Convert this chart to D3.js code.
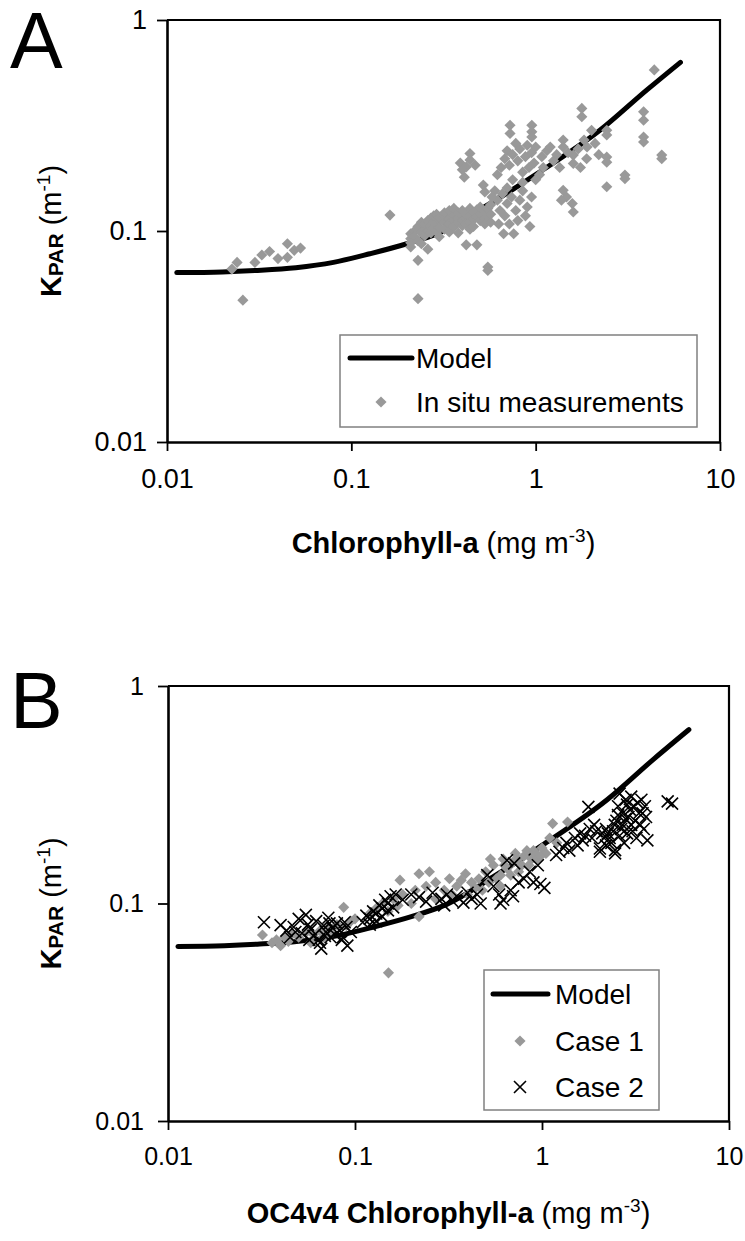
<!DOCTYPE html>
<html>
<head>
<meta charset="utf-8">
<script src="https://cdn.jsdelivr.net/npm/d3@7"></script>
<style>
  body { margin: 0; background: #fff; }
  svg text { font-family: "Liberation Sans", Arial, sans-serif; fill: #000; }
</style>
</head>
<body>
<svg id="chart" width="745" height="1241"></svg>
<script>
// ---- data ----
const xTicks = [0.01, 0.1, 1, 10];
const yTicks = [0.01, 0.1, 1];

// model curve (chlorophyll, Kpar)
const modelChl = [0.0113, 0.02, 0.03, 0.05, 0.08, 0.126, 0.2, 0.3, 0.566, 1.0, 2.23, 4.0, 6.1];
const modelK   = [0.0635, 0.064, 0.065, 0.067, 0.071, 0.078, 0.087, 0.098, 0.135, 0.185, 0.30, 0.465, 0.63];

// panel A: in situ measurements [chl, Kpar]
const inSitu = [
  [0.0225,0.066],[0.024,0.071],[0.0258,0.047],[0.030,0.071],[0.0327,0.077],[0.036,0.080],
  [0.040,0.074],[0.045,0.075],[0.045,0.087],[0.049,0.081],[0.053,0.083],[0.162,0.119],
  [0.21,0.092],[0.21,0.097],[0.21,0.084],[0.21,0.088],[0.22,0.100],[0.22,0.094],
  [0.23,0.0726],[0.23,0.0478],[0.23,0.105],[0.23,0.090],[0.24,0.098],[0.24,0.110],[0.24,0.087],
  [0.25,0.102],[0.25,0.108],[0.25,0.095],[0.26,0.082],[0.26,0.112],[0.26,0.100],
  [0.27,0.105],[0.27,0.115],[0.27,0.098],[0.28,0.110],[0.28,0.103],[0.28,0.118],
  [0.29,0.108],[0.29,0.099],[0.29,0.120],[0.30,0.112],[0.30,0.104],[0.30,0.116],[0.30,0.094],
  [0.32,0.110],[0.32,0.118],[0.32,0.102],[0.32,0.122],[0.34,0.114],[0.34,0.108],[0.34,0.125],[0.34,0.099],
  [0.36,0.112],[0.36,0.119],[0.36,0.105],[0.36,0.128],[0.38,0.115],[0.38,0.110],[0.38,0.122],[0.38,0.098],
  [0.40,0.118],[0.40,0.106],[0.40,0.125],[0.40,0.112],[0.42,0.086],[0.42,0.115],[0.42,0.120],[0.42,0.108],
  [0.44,0.110],[0.44,0.118],[0.44,0.102],[0.44,0.128],[0.46,0.113],[0.46,0.122],[0.46,0.105],
  [0.48,0.086],[0.48,0.117],[0.48,0.126],[0.50,0.112],[0.50,0.120],[0.50,0.130],
  [0.53,0.115],[0.53,0.124],[0.53,0.108],[0.55,0.0675],[0.55,0.065],[0.55,0.118],[0.55,0.128],
  [0.57,0.120],[0.57,0.110],[0.57,0.133],
  [0.44,0.233],[0.44,0.217],[0.42,0.201],[0.47,0.205],[0.41,0.180],[0.52,0.165],[0.53,0.153],
  [0.39,0.210],[0.40,0.195],
  [0.62,0.140],[0.64,0.125],[0.66,0.150],[0.67,0.097],[0.68,0.118],[0.70,0.135],[0.72,0.108],
  [0.74,0.145],[0.76,0.097],[0.78,0.125],[0.80,0.112],[0.82,0.140],[0.85,0.155],[0.88,0.118],
  [0.90,0.130],[0.93,0.105],[0.95,0.145],[0.60,0.155],[0.63,0.108],[0.70,0.160],[0.58,0.145],
  [0.726,0.317],[0.726,0.290],[0.953,0.317],[0.953,0.295],[0.953,0.279],[0.65,0.200],[0.68,0.220],
  [0.70,0.240],[0.72,0.205],[0.75,0.230],[0.78,0.260],[0.80,0.215],[0.82,0.245],[0.85,0.190],
  [0.88,0.225],[0.90,0.255],[0.92,0.200],[0.95,0.235],[0.98,0.210],[1.00,0.250],[1.05,0.185],
  [1.08,0.225],[1.10,0.200],[1.15,0.240],[1.20,0.250],[1.25,0.215],[0.85,0.170],[0.75,0.175],
  [1.00,0.175],[0.62,0.185],
  [1.41,0.270],[1.41,0.250],[1.41,0.156],[1.47,0.145],[1.58,0.135],[1.60,0.123],[1.38,0.140],
  [1.60,0.229],[1.60,0.209],[1.83,0.270],[1.89,0.220],[2.01,0.300],[1.78,0.381],[1.78,0.348],
  [1.50,0.235],[1.70,0.245],[1.75,0.200],[1.90,0.250],[2.10,0.260],[2.20,0.230],[1.30,0.230],[1.35,0.200],
  [2.43,0.162],[2.43,0.224],[2.43,0.212],[2.43,0.300],[2.43,0.285],[3.05,0.184],[3.05,0.177],
  [3.85,0.367],[3.85,0.335],[3.85,0.279],[3.85,0.264],[4.83,0.229],[4.83,0.220],[4.40,0.580]
];

// panel B: Case 1 (gray diamonds) and Case 2 (crosses) [chl, Kpar]
const case1 = [
  [0.032,0.0716],[0.036,0.066],[0.038,0.068],[0.040,0.064],[0.042,0.070],[0.044,0.067],
  [0.046,0.072],[0.050,0.070],[0.055,0.074],[0.060,0.072],[0.065,0.075],[0.070,0.078],
  [0.075,0.073],[0.080,0.080],[0.087,0.096],[0.090,0.079],[0.095,0.083],[0.100,0.085],
  [0.151,0.048],[0.12,0.090],[0.13,0.095],[0.14,0.100],[0.15,0.092],[0.16,0.105],[0.174,0.128],
  [0.18,0.110],[0.20,0.100],[0.22,0.137],[0.22,0.087],[0.24,0.120],[0.25,0.140],[0.27,0.125],
  [0.30,0.115],[0.32,0.130],[0.35,0.120],[0.39,0.137],[0.40,0.110],[0.42,0.125],[0.46,0.130],
  [0.48,0.115],[0.50,0.140],[0.55,0.150],[0.60,0.135],[0.62,0.160],[0.65,0.145],[0.70,0.155],
  [0.72,0.170],[0.75,0.140],[0.80,0.165],[0.85,0.150],[0.90,0.175],[0.95,0.160],[1.00,0.180],
  [1.05,0.170],[1.14,0.233],[1.37,0.237],[1.10,0.200],[1.20,0.190],[0.60,0.120],[0.52,0.125],
  [0.53,0.160],[0.57,0.130],[0.63,0.150],[0.68,0.135],[0.74,0.160],[0.78,0.150],[0.83,0.175],
  [0.88,0.160],[0.93,0.170],[0.98,0.165],[0.27,0.105],[0.33,0.110],[0.37,0.128],[0.44,0.118],
  [0.17,0.098],[0.21,0.115],[0.058,0.066],[0.068,0.070]
];
const case2 = [
  [0.0326,0.082],[0.040,0.0795],[0.043,0.075],[0.045,0.070],[0.047,0.078],[0.050,0.085],
  [0.052,0.073],[0.0546,0.0887],[0.056,0.080],[0.058,0.076],[0.060,0.071],[0.062,0.083],
  [0.064,0.068],[0.066,0.062],[0.068,0.079],[0.070,0.074],[0.072,0.086],[0.074,0.070],
  [0.076,0.077],[0.078,0.072],[0.080,0.081],[0.083,0.075],[0.086,0.070],[0.090,0.078],
  [0.091,0.064],[0.095,0.074],[0.065,0.066],[0.069,0.071],
  [0.110,0.082],[0.115,0.088],[0.120,0.085],[0.125,0.092],[0.130,0.090],[0.135,0.098],
  [0.140,0.095],[0.145,0.104],[0.150,0.100],[0.155,0.108],[0.160,0.096],[0.165,0.110],
  [0.120,0.080],[0.140,0.087],
  [0.18,0.104],[0.20,0.110],[0.22,0.107],[0.24,0.102],[0.26,0.112],[0.29,0.105],[0.31,0.110],
  [0.33,0.103],[0.35,0.108],[0.38,0.101],[0.40,0.112],[0.42,0.105],[0.45,0.110],[0.47,0.100],[0.30,0.098],
  [0.51,0.135],[0.55,0.120],[0.59,0.110],[0.62,0.104],[0.65,0.158],[0.68,0.115],[0.71,0.153],
  [0.75,0.125],[0.80,0.130],[0.86,0.140],[0.90,0.125],[0.98,0.123],[1.03,0.118],[0.60,0.100],
  [0.70,0.108],[0.95,0.150],
  [1.19,0.167],[1.24,0.173],[1.30,0.180],[1.35,0.190],[1.40,0.175],[1.50,0.200],[1.55,0.185],
  [1.60,0.210],[1.65,0.195],[1.77,0.278],[1.80,0.220],[1.85,0.200],[1.90,0.230],[2.04,0.179],[2.04,0.173],
  [2.10,0.210],[2.20,0.220],[2.30,0.200],[2.46,0.176],[2.46,0.170],[2.50,0.240],[2.60,0.320],
  [2.65,0.220],[2.70,0.260],[2.80,0.300],[2.85,0.210],[2.90,0.250],[3.00,0.230],[3.10,0.280],
  [3.20,0.200],[3.30,0.260],[3.40,0.300],[3.50,0.220],[3.60,0.250],[3.66,0.195],[2.75,0.190],
  [3.00,0.310],[2.55,0.280],[2.20,0.185],[2.35,0.190],[4.96,0.288],[4.70,0.295],
  [2.15,0.200],[2.25,0.210],[2.40,0.215],[2.45,0.230],[2.60,0.205],[2.70,0.230],[2.80,0.245],
  [2.95,0.270],[3.05,0.215],[3.15,0.240],[3.25,0.290],[3.35,0.230],[3.45,0.260],[2.55,0.255],
  [2.85,0.285],[3.55,0.280],[1.95,0.215],[1.70,0.205],[0.085,0.068],[0.088,0.082],[0.048,0.074],
  [0.057,0.068],[0.073,0.081],[0.130,0.083],[0.150,0.093]
];

// ---- layout ----
const font = '"Liberation Sans", Arial, sans-serif';
const grey = '#999999';
const svg = d3.select('#chart');

const panels = [
  {
    letter: 'A', left: 167, right: 720, top: 20, bottom: 442,
    tickFont: 27, yLabelGap: 20, xLabelDy: 46, xTitleDy: 111,
    xTitleBold: 'Chlorophyll-a',
    series: [{ name: 'In situ measurements', data: inSitu, type: 'diamond' }],
    legend: { x0: 340, x1: 697, y0: 335, y1: 427, rows: [358, 402], lineX0: 350, lineX1: 412, markX: 381, textX: 416 }
  },
  {
    letter: 'B', left: 168, right: 729, top: 686, bottom: 1121,
    tickFont: 25, yLabelGap: 24, xLabelDy: 44, xTitleDy: 102,
    xTitleBold: 'OC4v4 Chlorophyll-a',
    series: [
      { name: 'Case 1', data: case1, type: 'diamond' },
      { name: 'Case 2', data: case2, type: 'cross' }
    ],
    legend: { x0: 484, x1: 659, y0: 970, y1: 1110, rows: [994, 1041, 1087], lineX0: 493, lineX1: 548, markX: 520, textX: 555 }
  }
];

const diamondPath = d3.symbol(d3.symbolSquare, 62)();
const crossPath = 'M-6,-6L6,6M-6,6L6,-6';

function drawMarker(g, type, x, y) {
  if (type === 'diamond') {
    g.append('path').attr('d', diamondPath)
      .attr('transform', `translate(${x},${y}) rotate(45)`)
      .attr('fill', grey);
  } else {
    g.append('path').attr('d', crossPath)
      .attr('transform', `translate(${x},${y})`)
      .attr('fill', 'none').attr('stroke', '#000').attr('stroke-width', 1.6);
  }
}

panels.forEach(p => {
  const x = d3.scaleLog().domain([0.01, 10]).range([p.left, p.right]);
  const y = d3.scaleLog().domain([0.01, 1]).range([p.bottom, p.top]);
  const g = svg.append('g');

  // frame (top and right edges)
  g.append('path')
    .attr('d', `M${p.left},${p.top}H${p.right}V${p.bottom}`)
    .attr('fill', 'none').attr('stroke', '#000').attr('stroke-width', 2.2);

  // model curve, drawn under the markers
  const line = d3.line().x(d => x(d[0])).y(d => y(d[1])).curve(d3.curveMonotoneX);
  g.append('path')
    .datum(modelChl.map((c, i) => [c, modelK[i]]))
    .attr('d', line)
    .attr('fill', 'none').attr('stroke', '#000').attr('stroke-width', 5)
    .attr('stroke-linecap', 'round').attr('stroke-linejoin', 'round');

  // scatter
  const marks = g.append('g');
  p.series.forEach(s => {
    s.data.forEach(d => drawMarker(marks, s.type, x(d[0]), y(d[1])));
  });

  // axes
  const yAxis = g.append('g').attr('transform', `translate(${p.left},0)`)
    .call(d3.axisLeft(y).tickValues(yTicks).tickFormat(d => String(d)).tickSize(10).tickSizeOuter(0).tickPadding(p.yLabelGap - 10));
  const xAxis = g.append('g').attr('transform', `translate(0,${p.bottom})`)
    .call(d3.axisBottom(x).tickValues(xTicks).tickFormat(d => String(d)).tickSize(9).tickSizeOuter(0));
  [yAxis, xAxis].forEach(a => {
    a.select('.domain').attr('stroke-width', 2.6);
    a.selectAll('.tick line').attr('stroke-width', 1.8);
    a.selectAll('.tick text').style('font-family', font).style('font-size', p.tickFont + 'px');
  });
  xAxis.selectAll('.tick text').attr('y', null).attr('dy', null)
    .attr('transform', `translate(0,${p.xLabelDy})`);

  // legend
  const L = p.legend;
  const lg = g.append('g');
  lg.append('rect').attr('x', L.x0).attr('y', L.y0).attr('width', L.x1 - L.x0).attr('height', L.y1 - L.y0)
    .attr('fill', '#fff').attr('stroke', '#808080').attr('stroke-width', 1.5);
  const entries = [{ name: 'Model', type: 'line' }].concat(p.series);
  entries.forEach((e, i) => {
    const ry = L.rows[i];
    if (e.type === 'line') {
      lg.append('line').attr('x1', L.lineX0).attr('x2', L.lineX1).attr('y1', ry).attr('y2', ry)
        .attr('stroke', '#000').attr('stroke-width', 5).attr('stroke-linecap', 'round');
    } else {
      drawMarker(lg, e.type, L.markX, ry);
    }
    lg.append('text').attr('x', L.textX).attr('y', ry).attr('dy', '0.36em')
      .style('font-size', '28px').text(e.name);
  });

  // panel letter
  g.append('text').attr('x', 10).attr('y', p.top + (p.letter === 'A' ? 48 : 42))
    .style('font-size', '79px').text(p.letter);

  // y title
  const cy = (p.top + p.bottom) / 2;
  const yt = g.append('text').attr('transform', `translate(61,${cy}) rotate(-90)`)
    .attr('text-anchor', 'middle').style('font-size', '29px');
  yt.append('tspan').style('font-weight', 'bold').text('K');
  yt.append('tspan').style('font-weight', 'bold').style('font-size', '21px').attr('dy', 2).text('PAR');
  yt.append('tspan').attr('dy', -2).text(' (m');
  yt.append('tspan').style('font-size', '19px').attr('dy', -11).text('-1');
  yt.append('tspan').attr('dy', 11).text(')');

  // x title
  const xt = g.append('text').attr('x', (p.left + p.right) / 2).attr('y', p.bottom + p.xTitleDy)
    .attr('text-anchor', 'middle').style('font-size', '29px');
  xt.append('tspan').style('font-weight', 'bold').text(p.xTitleBold);
  xt.append('tspan').text(' (mg m');
  xt.append('tspan').style('font-size', '19px').attr('dy', -11).text('-3');
  xt.append('tspan').attr('dy', 11).text(')');
});
</script>
</body>
</html>
